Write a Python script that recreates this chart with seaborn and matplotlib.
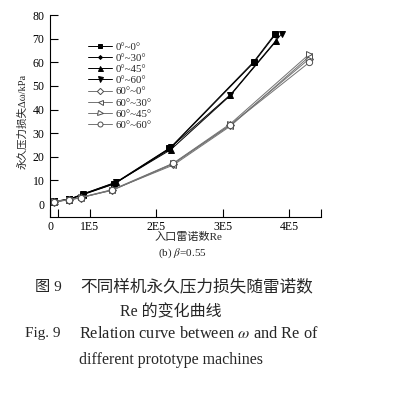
import numpy as np
import pandas as pd
import matplotlib
matplotlib.use('Agg')
import matplotlib.pyplot as plt
import seaborn as sns

# Re values (x) and permanent pressure loss (kPa) per prototype
re_a = [0.46e5, 0.69e5, 0.89e5, 1.37e5, 2.20e5, 3.47e5, 3.79e5]
re_b = [0.46e5, 0.69e5, 0.89e5, 1.40e5, 2.22e5, 3.12e5, 3.81e5]
re_c = [0.46e5, 0.69e5, 0.89e5, 1.40e5, 2.22e5, 3.12e5, 3.89e5]
re_open = [0.46e5, 0.68e5, 0.86e5, 1.34e5, 2.26e5, 3.12e5, 4.31e5]

loss_0_0 = [1.1, 2.0, 4.0, 8.6, 23.5, 60.2, 72.0]
loss_0_30 = [1.0, 1.9, 3.9, 8.5, 23.2, 59.8, 71.5]
loss_0_45 = [1.0, 1.9, 4.1, 9.2, 23.0, 46.0, 69.0]
loss_0_60 = [1.1, 2.0, 4.2, 9.3, 24.0, 46.3, 72.0]
loss_60_0 = [1.0, 1.8, 2.7, 5.9, 17.0, 33.5, 61.5]
loss_60_30 = [1.0, 1.7, 2.6, 6.0, 16.5, 33.0, 62.5]
loss_60_45 = [1.1, 1.8, 2.8, 6.1, 17.3, 34.0, 63.5]
loss_60_60 = [1.0, 1.7, 2.7, 5.8, 17.2, 33.5, 60.0]

labels = ['0°~0°', '0°~30°', '0°~45°', '0°~60°',
          '60°~0°', '60°~30°', '60°~45°', '60°~60°']
xs = [re_a, re_a, re_b, re_c, re_open, re_open, re_open, re_open]
ys = [loss_0_0, loss_0_30, loss_0_45, loss_0_60,
      loss_60_0, loss_60_30, loss_60_45, loss_60_60]
markers = ['s', 'D', '^', 'v', 'D', '<', '>', 'o']
msizes = [4, 2.5, 4.5, 4.5, 4, 4.5, 4.5, 4.5]
filled = [True, True, True, True, False, False, False, False]

sns.set_theme(style='ticks')
plt.rcParams['font.family'] = ['Liberation Serif', 'Noto Sans CJK SC']
plt.rcParams['mathtext.fontset'] = 'stix'
plt.rcParams['axes.unicode_minus'] = False

fig = plt.figure(figsize=(4.03, 3.93), dpi=100)
W, H = 403, 393
ax = fig.add_axes([50 / W, 1 - 217 / H, (321 - 50) / W, (217 - 15) / H])

for x, y, lab, m, ms, f in zip(xs, ys, labels, markers, msizes, filled):
    col = 'black' if f else '0.45'
    sns.lineplot(x=x, y=y, ax=ax, color=col, lw=0.7, marker=m, markersize=ms,
                 markerfacecolor='black' if f else 'white',
                 markeredgecolor='black' if f else '0.3',
                 markeredgewidth=0.7, label=lab)

x0, x1 = 0.40e5, 4.484e5
ax.set_xlim(x0, x1)
ax.set_ylim(-5.5, 80)
ax.set_xticks([x0, 0.514e5, 1e5, 2e5, 3e5, 4e5, x1])
ax.set_xticklabels(['0', '', '1E5', '2E5', '3E5', '4E5', ''])
ax.set_yticks(np.arange(0, 81, 10))
ax.tick_params(direction='in', length=5.5, width=0.8, labelsize=8.5, colors='black', pad=3)
ax.tick_params(axis='y', pad=4)
for s in ['top', 'right']:
    ax.spines[s].set_visible(False)
for s in ['left', 'bottom']:
    ax.spines[s].set_color('black')
    ax.spines[s].set_linewidth(0.8)

ax.set_xlabel('')
ax.set_ylabel('永久压力损失Δω/kPa', fontsize=7.6)
ax.yaxis.set_label_coords(-0.085, 0.475)

leg = ax.legend(loc='upper left', bbox_to_anchor=(0.105, 0.915), frameon=False,
                fontsize=7.8, handlelength=2.2, labelspacing=0.15, handletextpad=0.3,
                markerscale=0.8)

fig.text(188 / W, 1 - 237 / H, '入口雷诺数Re', fontsize=8, ha='center', va='center')
fig.text(182 / W, 1 - 253 / H, r'(b) $\beta$=0.55', fontsize=8, ha='center', va='center')

fig.text(35 / W, 1 - 287 / H, '图 9', fontsize=11, ha='left', va='center')
fig.text(80 / W, 1 - 287 / H, '不同样机永久压力损失随雷诺数', fontsize=12, ha='left', va='center')
fig.text(120 / W, 1 - 312 / H, 'Re 的变化曲线', fontsize=11.5, ha='left', va='center')
fig.text(25 / W, 1 - 334 / H, 'Fig. 9', fontsize=11, ha='left', va='center')
fig.text(79 / W, 1 - 334 / H, r'Relation curve between $\omega$ and Re of', fontsize=11.8,
         ha='left', va='center')
fig.text(79 / W, 1 - 360 / H, 'different prototype machines', fontsize=11.5,
         ha='left', va='center')

fig.savefig('out.png', dpi=100, facecolor='white')
